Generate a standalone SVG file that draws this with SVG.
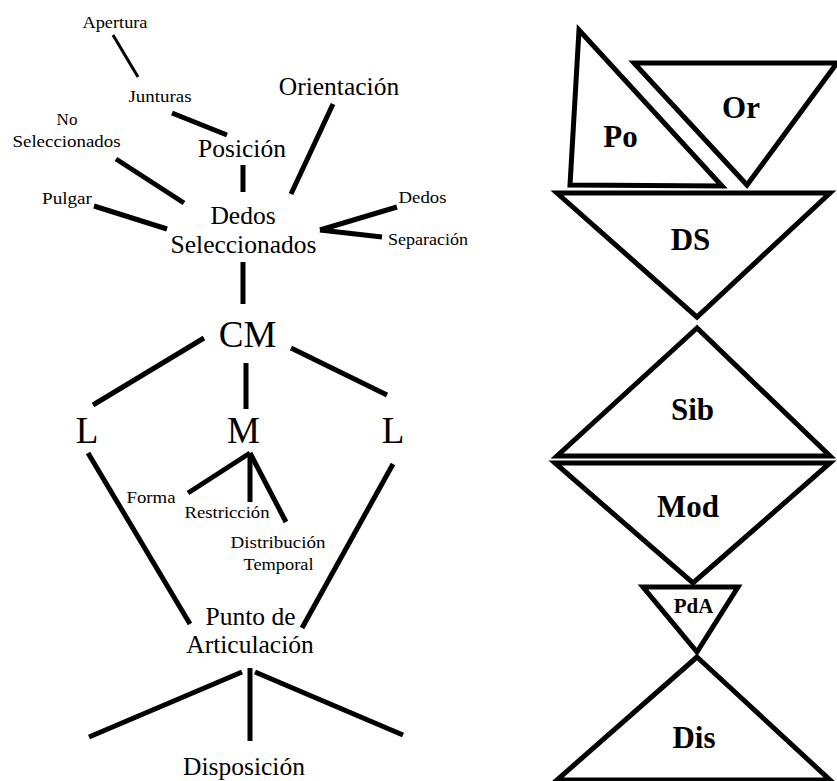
<svg xmlns="http://www.w3.org/2000/svg" width="837" height="781" viewBox="0 0 837 781">
<style>
.s{font-size:17px}
.m{font-size:25.5px}
.b{font-size:37px}
.t{font-size:31px;font-weight:bold}
.c line{stroke:#000;stroke-width:5;stroke-linecap:butt}
.tri{fill:none;stroke:#000;stroke-width:5;stroke-linejoin:miter}
</style>
<rect width="837" height="781" fill="#fff"/>
<g class="c" id="connectors">
<line x1="113" y1="35" x2="138" y2="77" style="stroke-width:3"/>
<line x1="172" y1="113" x2="227" y2="135"/>
<line x1="116" y1="159" x2="184" y2="203"/>
<line x1="94" y1="206" x2="167" y2="229"/>
<line x1="243" y1="165" x2="243" y2="192"/>
<line x1="333" y1="104" x2="291" y2="194"/>
<line x1="397" y1="207" x2="320" y2="230"/>
<line x1="320" y1="230" x2="382" y2="237"/>
<line x1="243" y1="262" x2="243" y2="304"/>
<line x1="204" y1="338" x2="93" y2="405"/>
<line x1="246" y1="363" x2="246" y2="409"/>
<line x1="291" y1="348" x2="387" y2="395"/>
<line x1="88" y1="453" x2="190" y2="624"/>
<line x1="393" y1="464" x2="302" y2="628"/>
<line x1="250" y1="453" x2="188" y2="493"/>
<line x1="250" y1="453" x2="250" y2="502"/>
<line x1="250" y1="453" x2="286" y2="522"/>
<line x1="242" y1="672" x2="89" y2="737"/>
<line x1="250" y1="668" x2="250" y2="741"/>
<line x1="255" y1="672" x2="403" y2="735"/>
</g>
<g font-family="'Liberation Serif', 'Times New Roman', serif" text-anchor="middle" fill="#000">
<g id="apertura"><text class="s" x="115" y="28" textLength="65" lengthAdjust="spacingAndGlyphs">Apertura</text></g>
<g id="junturas"><text class="s" x="160" y="102" textLength="63" lengthAdjust="spacingAndGlyphs">Junturas</text></g>
<g id="no-seleccionados"><text class="s" x="67" y="125">No</text><text class="s" x="66.5" y="147" textLength="108" lengthAdjust="spacingAndGlyphs">Seleccionados</text></g>
<g id="pulgar"><text class="s" x="67" y="204" textLength="50" lengthAdjust="spacingAndGlyphs">Pulgar</text></g>
<g id="posicion"><text class="m" x="242" y="157">Posición</text></g>
<g id="orientacion"><text class="m" x="339" y="95">Orientación</text></g>
<g id="dedos-seleccionados"><text class="m" x="243" y="224">Dedos</text><text class="m" x="243.5" y="253">Seleccionados</text></g>
<g id="dedos"><text class="s" x="422.5" y="203" textLength="48" lengthAdjust="spacingAndGlyphs">Dedos</text></g>
<g id="separacion"><text class="s" x="428" y="245" textLength="80" lengthAdjust="spacingAndGlyphs">Separación</text></g>
<g id="cm"><text class="b" x="247.5" y="347">CM</text></g>
<g id="l-left"><text class="b" x="87" y="443">L</text></g>
<g id="m"><text class="b" x="243.5" y="443">M</text></g>
<g id="l-right"><text class="b" x="393" y="443">L</text></g>
<g id="forma"><text class="s" x="151" y="503" textLength="49" lengthAdjust="spacingAndGlyphs">Forma</text></g>
<g id="restriccion"><text class="s" x="227" y="518" textLength="85" lengthAdjust="spacingAndGlyphs">Restricción</text></g>
<g id="distribucion"><text class="s" x="278" y="548" textLength="95" lengthAdjust="spacingAndGlyphs">Distribución</text><text class="s" x="278.5" y="570" textLength="70" lengthAdjust="spacingAndGlyphs">Temporal</text></g>
<g id="punto-articulacion"><text class="m" x="250.5" y="625">Punto de</text><text class="m" x="250" y="653">Articulación</text></g>
<g id="disposicion"><text class="m" x="244" y="775">Disposición</text></g>
<g id="po"><polygon class="tri" points="579,30 570,185 722,186"/><text class="t" x="620.5" y="147">Po</text></g>
<g id="or"><polygon class="tri" points="634,63 837,63 747,185"/><text class="t" x="741" y="118">Or</text></g>
<g id="ds"><polygon class="tri" points="557,193 830,193 697,317"/><text class="t" x="690.5" y="250">DS</text></g>
<g id="sib"><polygon class="tri" points="697,328 557,456 830,456"/><text class="t" x="692.5" y="420">Sib</text></g>
<g id="mod"><polygon class="tri" points="555,463 830,463 693,583"/><text class="t" x="688" y="517">Mod</text></g>
<g id="pda"><polygon class="tri" points="643,587 738,587 697,652"/><text class="t" x="693.5" y="613" style="font-size:21px">PdA</text></g>
<g id="dis"><polygon class="tri" points="697,657 557,780 830,780"/><text class="t" x="694" y="748">Dis</text></g>
</g>
</svg>
